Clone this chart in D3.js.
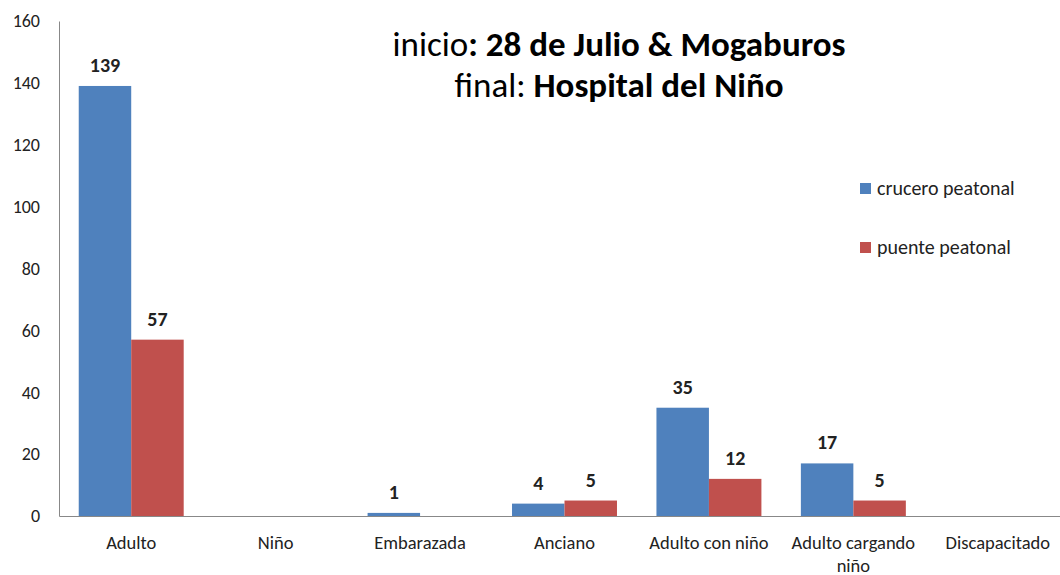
<!DOCTYPE html>
<html>
<head>
<meta charset="utf-8">
<script src="https://cdn.jsdelivr.net/npm/d3@7/dist/d3.min.js"></script>
<style>
  html, body { margin: 0; padding: 0; background: #fff; }
  svg { display: block; font-family: Carlito, Lato, "Open Sans", sans-serif; }
</style>
</head>
<body>
<div id="chart"></div>
<script>
(function () {
  'use strict';

  var categories = ['Adulto', 'Niño', 'Embarazada', 'Anciano', 'Adulto con niño', 'Adulto cargando niño', 'Discapacitado'];
  var seriesNames = ['crucero peatonal', 'puente peatonal'];
  var crucero = [139, 0, 1, 4, 35, 17, 0];
  var puente  = [57, 0, 0, 5, 12, 5, 0];
  var yTicks  = [0, 20, 40, 60, 80, 100, 120, 140, 160];

  var COL = { crucero: '#4f81bd', puente: '#c0504d', axis: '#888', text: '#222' };
  var colours = [COL.crucero, COL.puente];
  var values  = [crucero, puente];
  var FONT = 'Carlito, Lato, "Open Sans", sans-serif';

  var W = 1060, H = 575;
  var mg = { top: 21, left: 59, bottom: 59 };

  var svg = d3.select('#chart').append('svg')
    .attr('width', W).attr('height', H);

  var x0 = d3.scaleBand().domain(categories).range([mg.left, 1070]).padding(0);
  var x1 = d3.scaleBand().domain([0, 1]).range([0, x0.bandwidth()])
    .paddingInner(0).paddingOuter(0.376);
  var y = d3.scaleLinear().domain([0, 160]).range([H - mg.bottom, mg.top]);

  // Y axis
  var yAx = svg.append('g')
    .attr('transform', 'translate(' + mg.left + ',0)')
    .call(d3.axisLeft(y).tickValues(yTicks).tickSize(0).tickPadding(19));
  yAx.select('.domain').attr('stroke', COL.axis);
  yAx.selectAll('text').attr('font-size', 18).attr('fill', COL.text)
    .attr('font-family', FONT);

  // Bars + value labels
  values.forEach(function (vals, s) {
    var rows = vals.map(function (v, i) { return { cat: categories[i], v: v }; });
    var g = svg.append('g');
    g.selectAll('rect').data(rows).join('rect')
      .attr('x', function (d) { return x0(d.cat) + x1(s); })
      .attr('width', x1.bandwidth())
      .attr('y', function (d) { return y(d.v); })
      .attr('height', function (d) { return y(0) - y(d.v); })
      .attr('fill', colours[s]);
    g.selectAll('text').data(rows.filter(function (d) { return d.v > 0; })).join('text')
      .attr('x', function (d) { return x0(d.cat) + x1(s) + x1.bandwidth() / 2; })
      .attr('y', function (d) { return y(d.v) - 14; })
      .attr('text-anchor', 'middle')
      .attr('font-size', 20).attr('font-weight', 700).attr('fill', COL.text)
      .text(function (d) { return d.v; });
  });

  // X axis
  var xAx = svg.append('g')
    .attr('transform', 'translate(0,' + y(0) + ')')
    .call(d3.axisBottom(x0).tickSize(0).tickPadding(0));
  xAx.select('.domain').attr('stroke', COL.axis);
  xAx.selectAll('text').remove();
  xAx.selectAll('.tick').each(function (c) {
    var words = c === 'Adulto cargando niño' ? ['Adulto cargando', 'niño'] : [c];
    var t = d3.select(this).append('text')
      .attr('text-anchor', 'middle')
      .attr('font-size', 18.5).attr('fill', COL.text)
      .attr('font-family', FONT);
    words.forEach(function (w, k) {
      t.append('tspan').attr('x', 0).attr('y', 33 + k * 22.5).text(w);
    });
  });

  // Title
  var title = svg.append('text')
    .attr('x', 619).attr('text-anchor', 'middle')
    .attr('font-size', 35).attr('fill', '#000');
  var l1 = title.append('tspan').attr('x', 619).attr('y', 56);
  l1.append('tspan').text('inicio');
  l1.append('tspan').attr('font-weight', 700).text(': 28 de Julio & Mogaburos');
  var l2 = title.append('tspan').attr('x', 619).attr('y', 97);
  l2.append('tspan').text('final: ');
  l2.append('tspan').attr('font-weight', 700).text('Hospital del Niño');

  // Legend
  var leg = svg.append('g');
  seriesNames.forEach(function (name, i) {
    var ly = 183 + i * 59;
    leg.append('rect').attr('x', 860).attr('y', ly)
      .attr('width', 11).attr('height', 11).attr('fill', colours[i]);
    leg.append('text').attr('x', 877).attr('y', ly + 12)
      .attr('font-size', 20).attr('fill', COL.text).text(name);
  });
}());
</script>
</body>
</html>
